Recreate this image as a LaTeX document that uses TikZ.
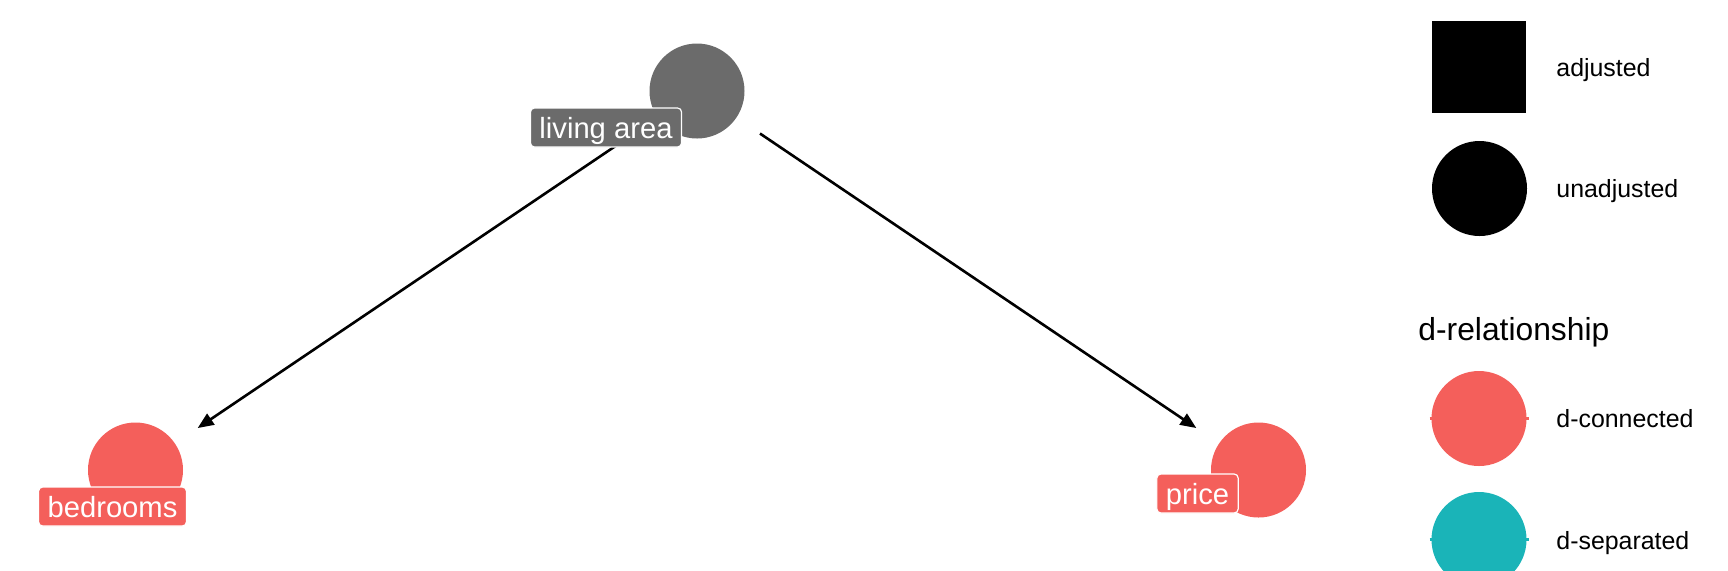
\documentclass[tikz,border=0pt]{standalone}
\usepackage{fontspec}
\setmainfont{Liberation Sans}
\usetikzlibrary{arrows.meta}
\definecolor{dconn}{HTML}{F45F5B}
\definecolor{dsep}{HTML}{1AB4B8}
\definecolor{dagnode}{HTML}{6B6B6B}

\begin{document}
\begin{tikzpicture}[x=0.5pt,y=-0.5pt,
        var/.style={circle,minimum size=47.5pt,inner sep=0pt,outer sep=0pt},
        lbl/.style={rounded corners=2pt,draw=white,line width=0.6pt,text=white,
            font=\fontsize{14.6}{16}\selectfont,minimum height=19.5pt,
            inner xsep=4.5pt,inner ysep=0pt,text height=11.5pt,text depth=1pt},
        edge/.style={-{Triangle[length=8pt,width=6.5pt]},line width=1.3pt,
            shorten <=14.25pt,shorten >=13.75pt},
        keytext/.style={anchor=base west,inner sep=0pt,font=\fontsize{12.45}{14}\selectfont}]
        \useasboundingbox (0,0) rectangle (1728,570);
        % variables
        \node[var,fill=dagnode] at (697,91) (living) {};
        \node[var,fill=dconn] at (135.5,470) (bed) {};
        \node[var,fill=dconn] at (1258.5,470) (price) {};
        % draw arrows
        \draw[edge] (living) to (bed);
        \draw[edge] (living) to (price);
        % labels
        \node[lbl,fill=dagnode] at (606,127.5) (living_lbl) {living area};
        \node[lbl,fill=dconn] at (112.5,506.5) (bed_lbl) {bedrooms};
        \node[lbl,fill=dconn] at (1197.5,493.5) (price_lbl) {price};
        % legend
        \node[fill=black,minimum width=47pt,minimum height=46pt,inner sep=0pt] at (1479,67) (k_adj) {};
        \node[var,fill=black] at (1479.5,188.5) (k_unadj) {};
        \node[var,fill=dconn] at (1479,418.5) (k_conn) {};
        \node[var,fill=dsep] at (1479,539.5) (k_sep) {};
        \draw[dconn,line width=1.2pt] ([xshift=-1pt]k_conn.west) -- ([xshift=1pt]k_conn.east);
        \draw[dsep,line width=1.2pt] ([xshift=-1pt]k_sep.west) -- ([xshift=1pt]k_sep.east);
        \node[keytext] at (1556,76) (t_adj) {adjusted};
        \node[keytext] at (1556,197) (t_unadj) {unadjusted};
        \node[keytext,font=\fontsize{15.9}{18}\selectfont] at (1418,340.5) (t_rel) {d-relationship};
        \node[keytext] at (1556,427) (t_conn) {d-connected};
        \node[keytext] at (1556,549) (t_sep) {d-separated};
    \end{tikzpicture}
\end{document}
